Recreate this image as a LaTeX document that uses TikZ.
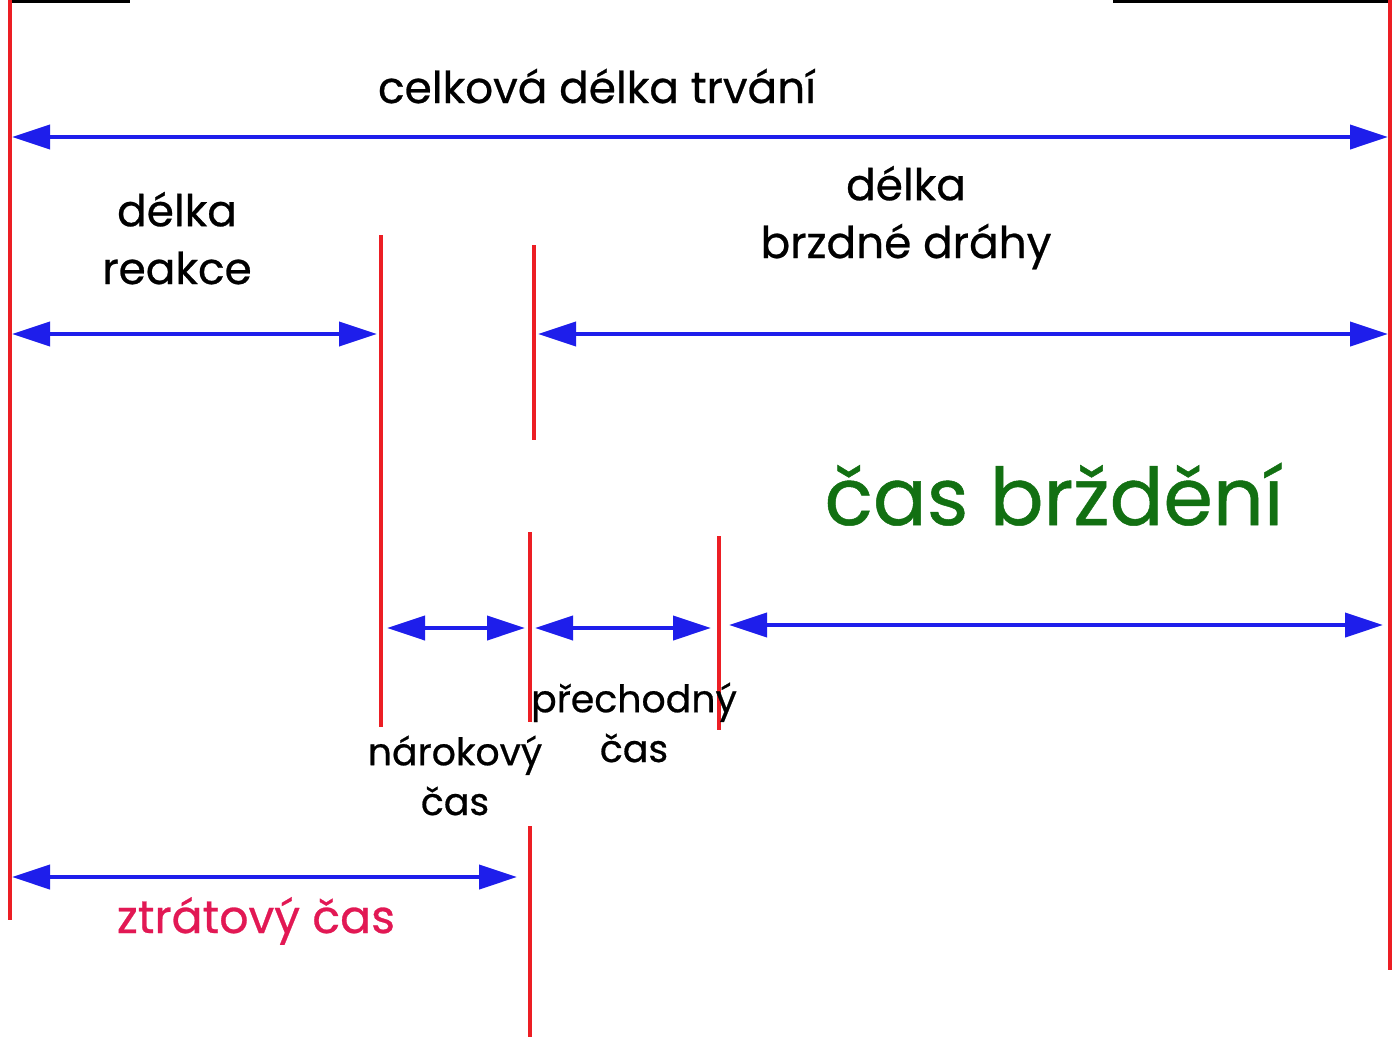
\documentclass[tikz,border=0pt]{standalone}
\usepackage{fontspec}
\setmainfont{Poppins}[FakeBold=0.6]
\usetikzlibrary{arrows.meta}
\definecolor{lred}{RGB}{236,30,36}
\definecolor{ablue}{RGB}{30,30,235}
\definecolor{tgreen}{RGB}{18,112,18}
\definecolor{tcrim}{RGB}{226,24,84}
\tikzset{
  redline/.style={draw=lred, line width=3.5bp},
  dimarrow/.style={draw=ablue, line width=4bp,
    {Triangle[length=38bp,width=24bp]}-{Triangle[length=38bp,width=24bp]}},
  biglbl/.style={font=\fontsize{44}{58}\selectfont, align=center, inner sep=0pt},
  smalllbl/.style={font=\fontsize{38}{50}\selectfont, align=center, inner sep=0pt},
}
\begin{document}
\begin{tikzpicture}[x=1bp,y=-1bp]
\useasboundingbox[fill=white] (0,0) rectangle (1394,1037);
% remnants at top edge
\draw[black, line width=3bp] (10,1) -- (130,1);
\draw[black, line width=3bp] (1113,1) -- (1390,1);
% vertical markers
\coordinate (L0) at (10,0);    \coordinate (L1) at (10,920);
\coordinate (R0) at (1390,0);  \coordinate (R1) at (1390,970);
\coordinate (A0) at (381,235); \coordinate (A1) at (381,727);
\coordinate (B0) at (534,245); \coordinate (B1) at (534,440);
\coordinate (C0) at (530,532); \coordinate (C1) at (530,722);
\coordinate (D0) at (530,826); \coordinate (D1) at (530,1037);
\coordinate (E0) at (719,536); \coordinate (E1) at (719,730);
\foreach \p in {L,R,A,B,C,D,E} \draw[redline] (\p0) -- (\p1);
% arrow ends
\coordinate (t1) at (12,137);  \coordinate (t2) at (1388,137);
\coordinate (r1) at (12,334);  \coordinate (r2) at (377,334);
\coordinate (b1) at (538,334); \coordinate (b2) at (1388,334);
\coordinate (n1) at (387,628); \coordinate (n2) at (525,628);
\coordinate (p1) at (535,628); \coordinate (p2) at (711,628);
\coordinate (c1) at (729,625); \coordinate (c2) at (1383,625);
\coordinate (z1) at (12,877);  \coordinate (z2) at (517,877);
\draw[dimarrow] (t1) -- (t2);
\draw[dimarrow] (r1) -- (r2);
\draw[dimarrow] (b1) -- (b2);
\draw[dimarrow] (n1) -- (n2);
\draw[dimarrow] (p1) -- (p2);
\draw[dimarrow] (c1) -- (c2);
\draw[dimarrow] (z1) -- (z2);
% labels (base anchor = baseline of the last line)
\node[biglbl, anchor=base] (celk) at (597,103) {celková délka trvání};
\node[biglbl, anchor=base] (reak) at (177,284) {délka\\reakce};
\node[biglbl, anchor=base] (brzd) at (906,258) {délka\\brzdné dráhy};
\node[font=\fontsize{80}{90}\selectfont, text=tgreen, inner sep=0pt, anchor=base] (casb) at (1054,525) {čas brždění};
\node[smalllbl, anchor=base] (prech) at (634,762) {přechodný\\čas};
\node[smalllbl, anchor=base] (narok) at (455,815) {nárokový\\čas};
\node[font=\fontsize{46}{58}\selectfont, inner sep=0pt, text=tcrim, anchor=base] (ztrat) at (256,933) {ztrátový čas};
\end{tikzpicture}
\end{document}
